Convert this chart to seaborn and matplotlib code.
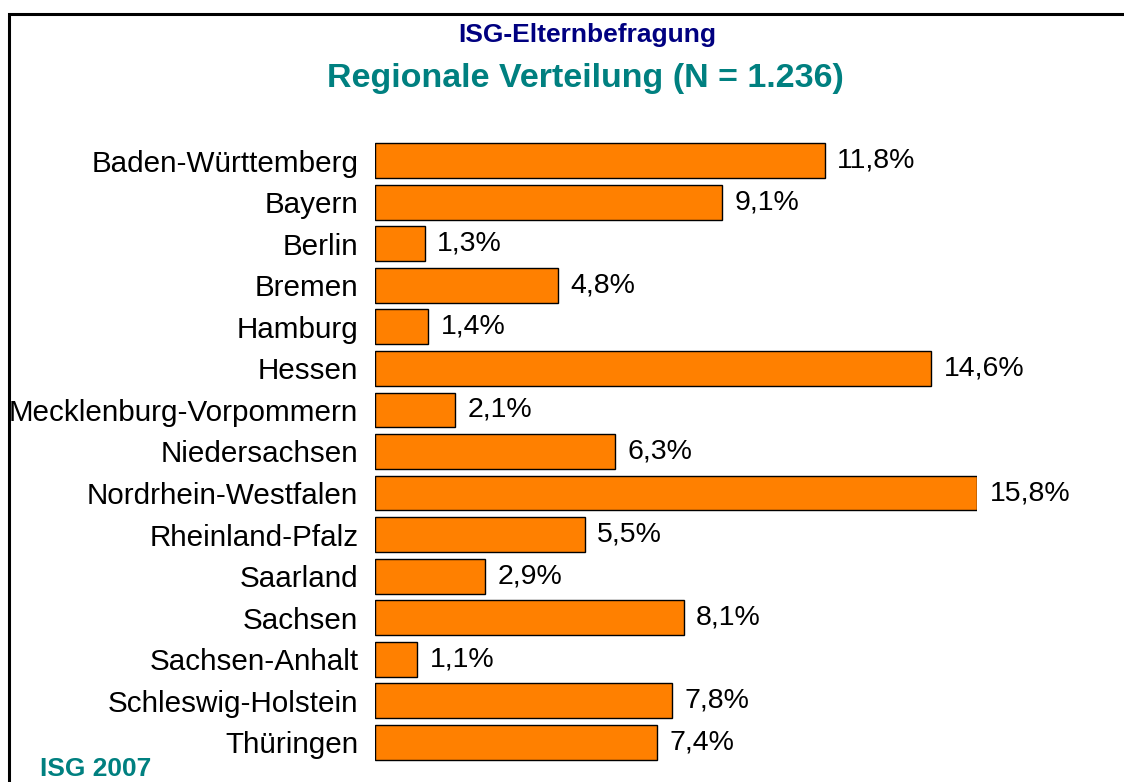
import matplotlib
matplotlib.use("Agg")
import matplotlib.pyplot as plt
import seaborn as sns
import pandas as pd
from matplotlib.patches import Rectangle

# Data
laender = ["Baden-Württemberg", "Bayern", "Berlin", "Bremen", "Hamburg", "Hessen",
           "Mecklenburg-Vorpommern", "Niedersachsen", "Nordrhein-Westfalen",
           "Rheinland-Pfalz", "Saarland", "Sachsen", "Sachsen-Anhalt",
           "Schleswig-Holstein", "Thüringen"]
anteil = [11.8, 9.1, 1.3, 4.8, 1.4, 14.6, 2.1, 6.3, 15.8, 5.5, 2.9, 8.1, 1.1, 7.8, 7.4]

df = pd.DataFrame({"Land": laender, "Anteil": anteil})

sns.set_style("white")
plt.rcParams['font.family'] = ['Liberation Sans', 'DejaVu Sans']

fig = plt.figure(figsize=(11.24, 7.82), dpi=100)
ax = fig.add_axes([375 / 1124, 1 - 763 / 782, (977 - 375) / 1124, (763 - 140) / 782])

sns.barplot(data=df, x="Anteil", y="Land", orient="h", color="#FF8000",
            saturation=1, edgecolor="black", linewidth=1, width=0.84, ax=ax)

ax.set_xlim(0, 15.8)
ax.set_xlabel("")
ax.set_ylabel("")
ax.set_xticks([])
ax.tick_params(axis="y", length=0, pad=12, labelsize=21.3, labelcolor="black")
for s in ax.spines.values():
    s.set_visible(False)

ax.bar_label(ax.containers[0], labels=[f"{v:.1f}%".replace(".", ",") for v in anteil],
             padding=9, fontsize=20.5, color="black", clip_on=False)

# Titles
fig.text(587 / 1124, 1 - 35 / 782, "ISG-Elternbefragung", ha="center", va="center",
         fontsize=19, fontweight="bold", color="#000080")
fig.text(585 / 1124, 1 - 78 / 782, "Regionale Verteilung (N = 1.236)", ha="center", va="center",
         fontsize=24.5, fontweight="bold", color="#008080")
fig.text(40 / 1124, 1 - 776 / 782, "ISG 2007", ha="left", va="baseline",
         fontsize=19, fontweight="bold", color="#008080")

# Frame
fig.patches.append(Rectangle((9 / 1124, -0.1), 1.2, 1 - 14 / 782 + 0.1,
                             transform=fig.transFigure, fill=False,
                             edgecolor="black", linewidth=2.2))

fig.savefig("out.png", dpi=100)
